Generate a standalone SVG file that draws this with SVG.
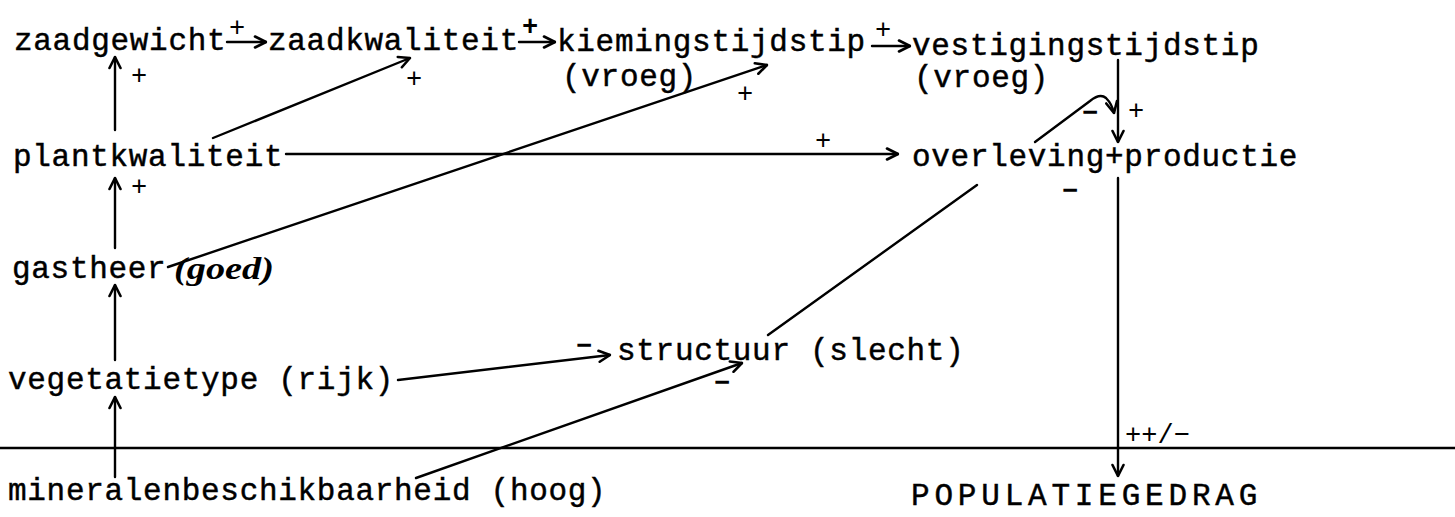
<svg xmlns="http://www.w3.org/2000/svg" width="1455" height="517" viewBox="0 0 1455 517">
<style>
  .t { font-family: "Liberation Mono", "DejaVu Sans Mono", monospace; font-size: 31px; letter-spacing: 0.7px; fill: #000; stroke: #000; stroke-width: 0.45px; }
  .lb { font-family: "Liberation Mono", "DejaVu Sans Mono", monospace; font-size: 27px; fill: #000; text-anchor: middle; }
  .hand { font-family: "Liberation Serif", serif; font-style: italic; font-weight: bold; font-size: 31px; fill: #000; }
  .c { fill: none; stroke: #000; stroke-width: 2.4; stroke-linecap: round; }
  .a { marker-end: url(#ah); }
</style>
<defs>
  <marker id="ah" viewBox="0 0 14 14" refX="13" refY="7" markerWidth="14" markerHeight="14" markerUnits="userSpaceOnUse" orient="auto">
    <path d="M2,1.5 L13,7 L2,12.5" fill="none" stroke="#000" stroke-width="2.6" stroke-linecap="round" stroke-linejoin="round"/>
  </marker>
</defs>
<rect width="1455" height="517" fill="#fff"/>

<g id="connectors">
  <path class="c" d="M0,448 L1455,448"/>
  <path class="c a" d="M227,42 L266,42"/>
  <path class="c a" d="M519,42 L555,42"/>
  <path class="c a" d="M872,46 L910,46"/>
  <path class="c a" d="M1118,60 L1118,142"/>
  <path class="c a" d="M1035,142 L1090,101 Q1100,93 1106,98 Q1112,104 1114,113"/>
  <path class="c a" d="M1118,178 L1118,476"/>
  <path class="c a" d="M115,130 L115,57"/>
  <path class="c a" d="M213,138 L410,58"/>
  <path class="c a" d="M286,154 L898,154"/>
  <path class="c a" d="M115,248 L115,178"/>
  <path class="c a" d="M115,360 L115,285"/>
  <path class="c a" d="M115,477 L115,397"/>
  <path class="c a" d="M168,267 L767,65"/>
  <path class="c a" d="M398,380 L610,355"/>
  <path class="c a" d="M416,478 L742,363"/>
  <path class="c" d="M768,335 L977,185"/>
</g>

<g id="labels">
  <text class="lb" x="237" y="36">+</text>
  <text class="lb" x="530" y="35" font-weight="bold">+</text>
  <text class="lb" x="883" y="38">+</text>
  <text class="lb" x="139" y="84">+</text>
  <text class="lb" x="414" y="87">+</text>
  <text class="lb" x="745" y="102">+</text>
  <text class="lb" x="823" y="149">+</text>
  <text class="lb" x="139" y="195">+</text>
  <text class="lb" x="1136" y="119">+</text>
  <text class="lb" x="1090" y="121" font-weight="bold">−</text>
  <text class="lb" x="1070" y="199" font-weight="bold">−</text>
  <text class="lb" x="584" y="354" font-weight="bold">−</text>
  <text class="lb" x="722" y="391" font-weight="bold">−</text>
  <text class="lb" x="1125" y="443" style="text-anchor:start" font-size="29">++/−</text>
</g>

<g id="zaadgewicht"><text class="t" x="14" y="50">zaadgewicht</text></g>
<g id="zaadkwaliteit"><text class="t" x="268" y="50">zaadkwaliteit</text></g>
<g id="kiemingstijdstip"><text class="t" x="557" y="51">kiemingstijdstip</text><text class="t" x="562" y="86">(vroeg)</text></g>
<g id="vestigingstijdstip"><text class="t" x="912" y="55">vestigingstijdstip</text><text class="t" x="914" y="87">(vroeg)</text></g>
<g id="plantkwaliteit"><text class="t" x="13" y="166">plantkwaliteit</text></g>
<g id="overleving-productie"><text class="t" x="912" y="166">overleving+productie</text></g>
<g id="gastheer"><text class="t" x="12" y="278">gastheer</text><text class="hand" x="174" y="279" textLength="100" lengthAdjust="spacingAndGlyphs">(goed)</text></g>
<g id="vegetatietype"><text class="t" x="8" y="389">vegetatietype (rijk)</text></g>
<g id="structuur"><text class="t" x="617" y="360">structuur (slecht)</text></g>
<g id="mineralenbeschikbaarheid"><text class="t" x="8" y="500">mineralenbeschikbaarheid (hoog)</text></g>
<g id="populatiegedrag"><text class="t" x="911" y="505" textLength="347" lengthAdjust="spacing">POPULATIEGEDRAG</text></g>
</svg>
